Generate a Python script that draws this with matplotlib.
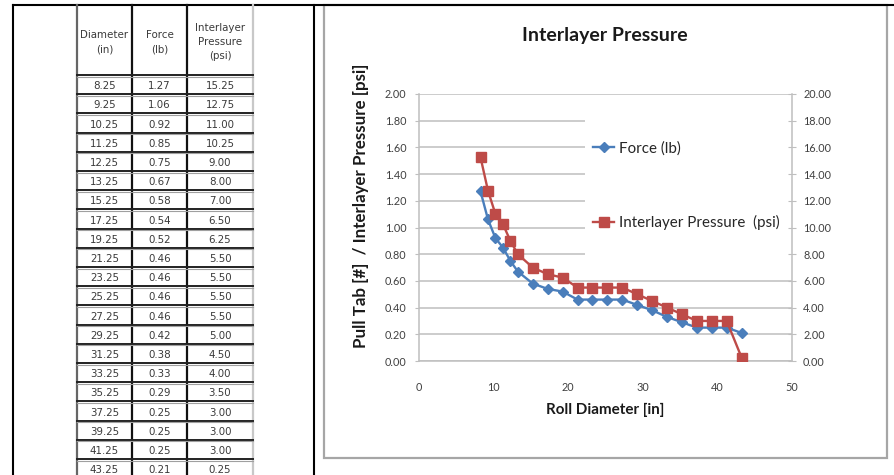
import matplotlib
matplotlib.use("Agg")
import matplotlib.pyplot as plt
from matplotlib.patches import Rectangle

# roll data
diameter = [8.25, 9.25, 10.25, 11.25, 12.25, 13.25, 15.25, 17.25, 19.25, 21.25, 23.25,
            25.25, 27.25, 29.25, 31.25, 33.25, 35.25, 37.25, 39.25, 41.25, 43.25]
force = [1.27, 1.06, 0.92, 0.85, 0.75, 0.67, 0.58, 0.54, 0.52, 0.46, 0.46,
         0.46, 0.46, 0.42, 0.38, 0.33, 0.29, 0.25, 0.25, 0.25, 0.21]
pressure = [15.25, 12.75, 11.00, 10.25, 9.00, 8.00, 7.00, 6.50, 6.25, 5.50, 5.50,
            5.50, 5.50, 5.00, 4.50, 4.00, 3.50, 3.00, 3.00, 3.00, 0.25]

headers = ["Diameter\n(in)", "Force\n(lb)", "Interlayer\nPressure\n(psi)"]
force_label = "Force (lb)"
pressure_label = "Interlayer Pressure  (psi)"

W, H = 894, 475
fig = plt.figure(figsize=(W / 100, H / 100), dpi=100)
fig.patch.set_facecolor("white")

def px(x0, y0, x1, y1):
    # pixel box (top-left origin) -> figure fraction rect
    return [x0 / W, 1 - y1 / H, (x1 - x0) / W, (y1 - y0) / H]

# ---- page frame + data table drawn in pixel space
bg = fig.add_axes([0, 0, 1, 1])
bg.set_xlim(0, W)
bg.set_ylim(H, 0)
bg.axis("off")

bg.plot([13, W], [5, 5], color="black", lw=1.5)
bg.plot([13, 13], [5, H], color="black", lw=1.5)
bg.plot([314, 314], [5, H], color="black", lw=1.5)

col_x = [77, 132, 187, 253]
col_col = ["#666666", "#111111", "#111111", "#c8c8c8"]
for x, c in zip(col_x, col_col):
    bg.plot([x, x], [5, H], color=c, lw=1.6)

tfont = dict(family=["DejaVu Sans"], color="#3a3a3a")
centers = [(col_x[i] + col_x[i + 1]) / 2 for i in range(3)]
for cx, h in zip(centers, headers):
    bg.text(cx, 42, h, ha="center", va="center", fontsize=7.4, linespacing=1.5, **tfont)

row_top = 76
row_h = 19.2
for i in range(len(diameter) + 1):
    y = row_top + i * row_h
    bg.plot([77, 253], [y - 1, y - 1], color="#222222", lw=1.4)
    bg.plot([77, 253], [y + 0.6, y + 0.6], color="#a0a0a0", lw=0.8)
for i, vals in enumerate(zip(diameter, force, pressure)):
    y = row_top + i * row_h + row_h / 2 + 0.5
    for cx, v in zip(centers, vals):
        bg.text(cx, y, "%.2f" % v, ha="center", va="center", fontsize=7.4, **tfont)

# chart border
bg.add_patch(Rectangle((324, 5), 887 - 324, 458 - 5, fill=False, edgecolor="#a6a6a6", lw=1.6))

# ---- chart
cfont = ["Lato", "DejaVu Sans"]
grey = "#bfbfbf"
tick_c = "#404040"
blue = "#4a7ebb"
red = "#be4b48"

ax = fig.add_axes(px(419, 94, 792, 361))
ax.set_facecolor("none")
ax.set_xlim(0, 50)
ax.set_ylim(0, 2.0)
ax.set_xticks(range(0, 51, 10))
ax.set_yticks([i * 0.2 for i in range(11)])
ax.set_yticklabels(["%.2f" % (i * 0.2) for i in range(11)])
ax.grid(axis="y", color=grey, lw=1.1)
ax.set_axisbelow(True)
for s in ["top", "right"]:
    ax.spines[s].set_visible(False)
for s in ["left", "bottom"]:
    ax.spines[s].set_color(grey)
    ax.spines[s].set_linewidth(1.1)
ax.tick_params(axis="x", length=0, pad=15, labelsize=7.8, labelcolor=tick_c)
ax.tick_params(axis="y", length=3, color=grey, pad=6, labelsize=7.8, labelcolor=tick_c)
for lab in ax.get_xticklabels() + ax.get_yticklabels():
    lab.set_family(cfont)

# white backing behind the legend hides the grid there
ax.add_patch(Rectangle((0.445, 0.36), 0.555, 0.617, transform=ax.transAxes,
                       facecolor="white", edgecolor="none", zorder=1))

l1, = ax.plot(diameter, force, color=blue, lw=1.7, marker="D", ms=5.2,
              markeredgecolor=blue, label=force_label, zorder=3)

ax2 = ax.twinx()
ax2.set_ylim(0, 20)
ax2.set_yticks(range(0, 21, 2))
ax2.set_yticklabels(["%.2f" % v for v in range(0, 21, 2)])
for s in ["top", "left", "bottom"]:
    ax2.spines[s].set_visible(False)
ax2.spines["right"].set_color(grey)
ax2.spines["right"].set_linewidth(1.1)
ax2.tick_params(axis="y", direction="inout", length=6, color=grey, pad=5,
                labelsize=7.8, labelcolor=tick_c)
for lab in ax2.get_yticklabels():
    lab.set_family(cfont)

l2, = ax2.plot(diameter, pressure, color=red, lw=1.7, marker="s", ms=7,
               markeredgecolor=red, label=pressure_label, zorder=3)

leg = ax2.legend([l1, l2], [force_label, pressure_label], loc="upper left",
                 bbox_to_anchor=(593 / W, 1 - 141 / H), bbox_transform=fig.transFigure,
                 frameon=False, handlelength=1.4, handletextpad=0.3,
                 labelspacing=3.95, borderpad=0, borderaxespad=0,
                 prop=dict(family=cfont, size=10.9))
for t in leg.get_texts():
    t.set_color("#262626")

fig.text(605 / W, 1 - 36 / H, "Interlayer Pressure", ha="center", va="center",
         fontsize=14, fontweight="bold", family=cfont, color="#1a1a1a")
fig.text(605 / W, 1 - 410 / H, "Roll Diameter [in]", ha="center", va="center",
         fontsize=10.9, fontweight="bold", family=cfont, color="#1a1a1a")
fig.text(361 / W, 1 - 206 / H, "Pull Tab [#]  / Interlayer Pressure [psi]", ha="center",
         va="center", rotation=90, fontsize=12.2, fontweight="bold", family=cfont,
         color="#1a1a1a")

fig.savefig("out.png", dpi=100, facecolor="white")
